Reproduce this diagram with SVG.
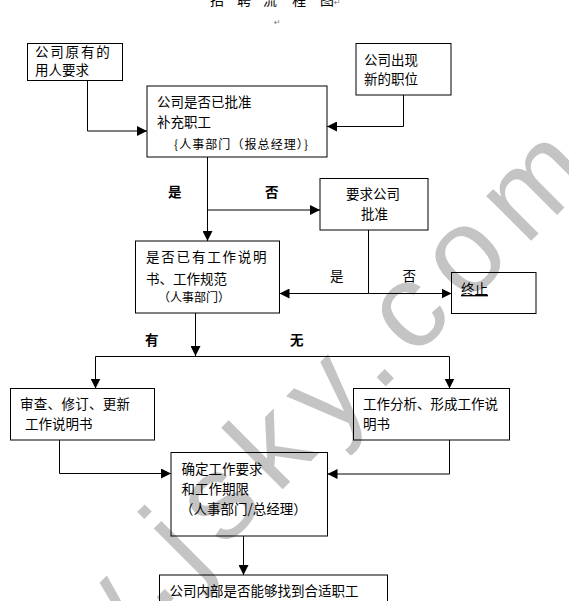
<svg xmlns="http://www.w3.org/2000/svg" width="569" height="601" viewBox="0 0 569 601">
<defs>
<style>
.t{font-family:"Noto Sans CJK SC","Liberation Sans",sans-serif;font-size:13.5px;fill:#000}
.s{font-size:12px}
.b{font-weight:bold}
.box{fill:none;stroke:#000;stroke-width:1}
.ln{fill:none;stroke:#000;stroke-width:1}
.wm{font-family:"Liberation Sans",Arial,sans-serif;font-size:120px;fill:#c4c4c4;letter-spacing:16px}
.rt{font-family:"DejaVu Sans",sans-serif;font-size:8px;fill:#777}
</style>
<marker id="ah" markerUnits="userSpaceOnUse" markerWidth="10" markerHeight="10" refX="10" refY="5" orient="auto">
<path d="M0,0 L10,5 L0,10 z" fill="#000"/>
</marker>
</defs>
<rect x="0" y="0" width="569" height="601" fill="#fff"/>
<text class="wm" transform="translate(-55,827) rotate(-45)">www.jsky.com</text>

<g id="title">
<text class="t" style="font-size:14px" y="5"><tspan x="210">招</tspan><tspan x="237">聘</tspan><tspan x="263">流</tspan><tspan x="292">程</tspan><tspan x="320">图</tspan></text>
<text class="rt" x="334" y="5">↵</text>
<text class="rt" x="274" y="25">↵</text>
</g>

<g id="connectors">
<path class="ln" marker-end="url(#ah)" d="M87.5,80 V131 H147"/>
<path class="ln" marker-end="url(#ah)" d="M403.5,95 V126.5 H327"/>
<path class="ln" marker-end="url(#ah)" d="M207.5,157 V241"/>
<path class="ln" marker-end="url(#ah)" d="M207.5,210 H320"/>
<path class="ln" d="M368.5,230 V293.5"/>
<path class="ln" marker-end="url(#ah)" d="M368.5,293.5 H279.5"/>
<path class="ln" marker-end="url(#ah)" d="M368.5,293.5 H451.5"/>
<path class="ln" marker-end="url(#ah)" d="M195.5,313 V356"/>
<path class="ln" d="M95.5,356.5 H449.5"/>
<path class="ln" marker-end="url(#ah)" d="M95.5,356.5 V388.5"/>
<path class="ln" marker-end="url(#ah)" d="M449.5,356.5 V388.5"/>
<path class="ln" marker-end="url(#ah)" d="M59.5,440 V473.5 H171"/>
<path class="ln" marker-end="url(#ah)" d="M449.5,440 V474 H327.5"/>
<path class="ln" marker-end="url(#ah)" d="M243.5,536 V575"/>
<text class="t b" x="168" y="197">是</text>
<text class="t b" x="265" y="197">否</text>
<text class="t" x="330" y="281">是</text>
<text class="t" x="402.5" y="281">否</text>
<text class="t b" x="145" y="345">有</text>
<text class="t b" x="290" y="345">无</text>
</g>

<g id="n1">
<rect class="box" x="27.5" y="43.5" width="95" height="37"/>
<text class="t" x="35" y="57" letter-spacing="1.8">公司原有的</text>
<text class="t" x="35" y="75">用人要求</text>
</g>
<g id="n2">
<rect class="box" x="356" y="43.5" width="95" height="51.5"/>
<text class="t" x="364" y="65">公司出现</text>
<text class="t" x="364" y="84">新的职位</text>
</g>
<g id="n3">
<rect class="box" x="147" y="86" width="180" height="71"/>
<text class="t" x="157" y="107">公司是否已批准</text>
<text class="t" x="157" y="127">补充职工</text>
<text class="t s" x="174" y="149" textLength="134" lengthAdjust="spacing">{人事部门（报总经理）}</text>
</g>
<g id="n4">
<rect class="box" x="320" y="178.5" width="108" height="51.5"/>
<text class="t" x="346" y="199">要求公司</text>
<text class="t" x="361" y="219">批准</text>
</g>
<g id="n5">
<rect class="box" x="135.5" y="241" width="144" height="72"/>
<text class="t" x="146" y="262" letter-spacing="1.8">是否已有工作说明</text>
<text class="t" x="146" y="284">书、工作规范</text>
<text class="t s" x="158" y="302">（人事部门）</text>
</g>
<g id="n6">
<rect class="box" x="451.5" y="272.5" width="84.5" height="41"/>
<text class="t" x="461" y="294" text-decoration="underline">终止</text>
</g>
<g id="n7">
<rect class="box" x="10.5" y="388.5" width="144" height="51.5"/>
<text class="t" x="20" y="409" letter-spacing="0.3">审查、修订、更新</text>
<text class="t" x="25" y="429">工作说明书</text>
</g>
<g id="n8">
<rect class="box" x="353.5" y="388.5" width="156" height="51.5"/>
<text class="t" x="363" y="409">工作分析、形成工作说</text>
<text class="t" x="363" y="429">明书</text>
</g>
<g id="n9">
<rect class="box" x="171" y="452.5" width="156.5" height="83.5"/>
<text class="t" x="181.5" y="474">确定工作要求</text>
<text class="t" x="181.5" y="494">和工作期限</text>
<text class="t" x="180" y="514">（人事部门/总经理）</text>
</g>
<g id="n10">
<rect class="box" x="159.5" y="575" width="228" height="40"/>
<text class="t" x="169.5" y="596">公司内部是否能够找到合适职工</text>
</g>
</svg>
